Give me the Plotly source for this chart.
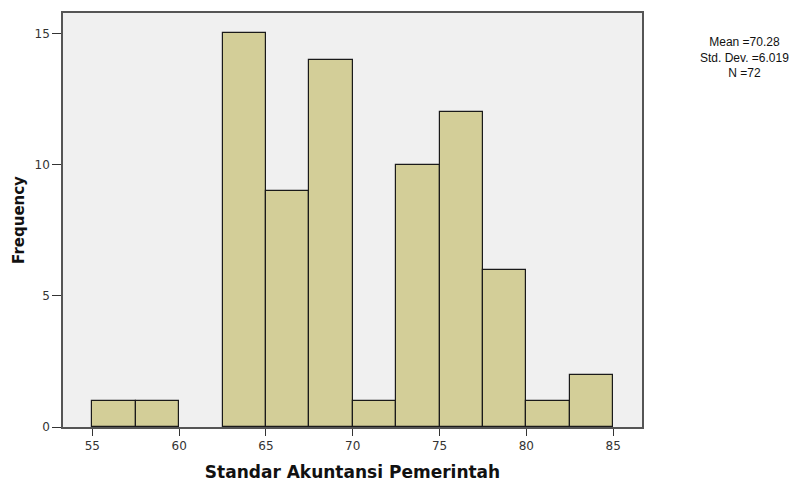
import plotly.graph_objects as go

bin_starts = [55, 57.5, 60, 62.5, 65, 67.5, 70, 72.5, 75, 77.5, 80, 82.5]
counts = [1, 1, 0, 15, 9, 14, 1, 10, 12, 6, 1, 2]
bin_width = 2.5
x_ticks = [55, 60, 65, 70, 75, 80, 85]
y_ticks = [0, 5, 10, 15]
stats_lines = ["Mean =70.28", "Std. Dev. =6.019", "N =72"]

fig = go.Figure()
fig.add_trace(go.Bar(
    x=bin_starts, y=counts, width=[bin_width] * len(counts), offset=0,
    marker=dict(color="#D3CE98",
                line=dict(color="#1a1a1a", width=[1.2 if c > 0 else 0 for c in counts])),
    showlegend=False,
))

fig.update_layout(
    width=795, height=474,
    margin=dict(l=55, r=161, t=5, b=55),
    paper_bgcolor="white", plot_bgcolor="#F0F0F0",
    bargap=0,
    font=dict(family="DejaVu Sans", size=12, color="#222"),
    xaxis=dict(
        range=[53.31, 86.66], tickvals=x_ticks, ticks="outside", ticklen=7,
        tickcolor="#333", tickwidth=1.3, showgrid=False, zeroline=False,
        showline=True, linecolor="#555", linewidth=1.5, mirror=True,
        automargin=False,
        tickfont=dict(family="DejaVu Sans", size=12, color="#333"),
        title=dict(text="<b>Standar Akuntansi Pemerintah</b>",
                   font=dict(family="DejaVu Sans", size=17, color="#111"), standoff=20),
    ),
    yaxis=dict(
        range=[0, 15.78], tickvals=y_ticks, ticks="outside", ticklen=9,
        tickcolor="#333", tickwidth=1.3, showgrid=False, zeroline=False,
        showline=True, linecolor="#555", linewidth=1.5, mirror=True,
        automargin=False,
        tickfont=dict(family="DejaVu Sans", size=12, color="#333"),
        title=dict(text="<b>Frequency</b>",
                   font=dict(family="DejaVu Sans", size=15, color="#111"), standoff=6),
    ),
    annotations=[dict(
        text="<br>".join(stats_lines), xref="paper", yref="paper", x=1.0, y=1.0,
        xshift=102, yshift=-44, showarrow=False, align="center",
        xanchor="center", yanchor="middle",
        font=dict(family="Liberation Sans, Arial", size=12, color="#111"),
    )],
)

fig.write_html("out.html")
